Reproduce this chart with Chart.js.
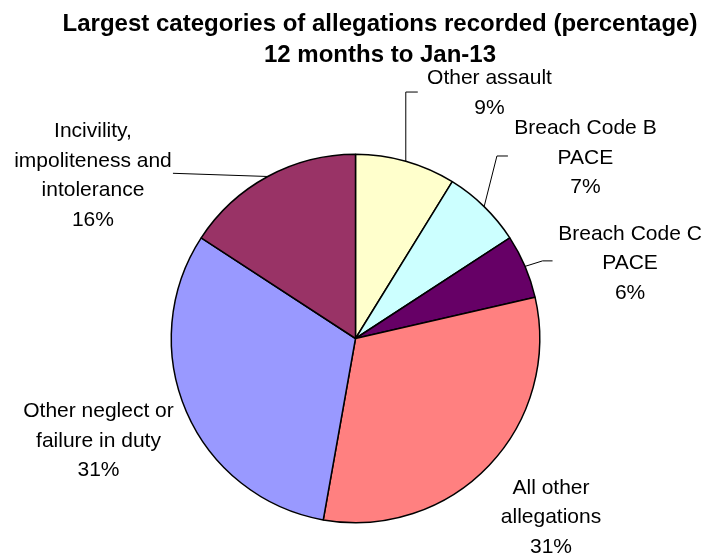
<!DOCTYPE html>
<html>
<head>
<meta charset="utf-8">
<script src="https://cdn.jsdelivr.net/npm/chart.js@4.4.1/dist/chart.umd.min.js"></script>
<style>
  html, body { margin: 0; padding: 0; background: #ffffff; }
  #wrap { width: 704px; height: 554px; position: relative; }
  canvas { display: block; }
</style>
</head>
<body>
<div id="wrap"><canvas id="c" width="704" height="554"></canvas></div>
<script>
// ---- Data ----
const titleLines = ['Largest categories of allegations recorded (percentage)', '12 months to Jan-13'];
const categories = [
  ['Other assault'],
  ['Breach Code B', 'PACE'],
  ['Breach Code C', 'PACE'],
  ['All other', 'allegations'],
  ['Other neglect or', 'failure in duty'],
  ['Incivility,', 'impoliteness and', 'intolerance']
];
const values = [8.8, 7.0, 5.6, 31.4, 31.4, 15.8];
const percentLabels = values.map(v => Math.round(v) + '%');

// ---- Styles ----
const sliceColors = ['#FFFFCC', '#CCFFFF', '#660066', '#FF8080', '#9999FF', '#993366'];
const FONT = '"Liberation Sans", Arial, sans-serif';
const LABEL_SIZE = 21;
const LINE_GAP = 29.7;
// label text anchor (center x, first baseline) relative to slice's outer mid point
const labelOffsets = [
  { dx: 83.7, dy: -76.9 },
  { dx: 101.3, dy: -72.6 },
  { dx: 105.0, dy: -26.8 },
  { dx: 62.0, dy: 28.2 },
  { dx: -87.9, dy: 5.3 },
  { dx: -174.8, dy: -39.5 }
];
// leader line points relative to slice's outer mid point
const leaders = [
  [[0, 0], [0, -69.2], [12, -69.2]],
  [[0, 0], [12.8, -50.6], [23.8, -50.6]],
  [[0, 0], [17.5, -5.5], [27.5, -5.5]],
  null,
  null,
  [[0, 0], [-94.8, -3.2]]
];

const labelPlugin = {
  id: 'pieLabels',
  afterDraw(chart) {
    const ctx = chart.ctx;
    ctx.save();
    // title
    ctx.fillStyle = '#000';
    ctx.textAlign = 'center';
    ctx.textBaseline = 'alphabetic';
    ctx.font = 'bold 24px ' + FONT;
    const tx = 380;
    ctx.fillText(titleLines[0], tx, 31);
    ctx.fillText(titleLines[1], tx, 61.5);

    const meta = chart.getDatasetMeta(0);
    meta.data.forEach((arc, i) => {
      const p = arc.getProps(['x', 'y', 'startAngle', 'endAngle', 'outerRadius'], true);
      const mid = (p.startAngle + p.endAngle) / 2;
      const ex = p.x + Math.cos(mid) * p.outerRadius;
      const ey = p.y + Math.sin(mid) * p.outerRadius;
      const ld = leaders[i];
      if (ld) {
        ctx.beginPath();
        ctx.strokeStyle = '#000';
        ctx.lineWidth = 1;
        ld.forEach((pt, k) => {
          const X = ex + pt[0], Y = ey + pt[1];
          if (k === 0) ctx.moveTo(X, Y); else ctx.lineTo(X, Y);
        });
        ctx.stroke();
      }
      const off = labelOffsets[i];
      const lines = categories[i].concat([percentLabels[i]]);
      ctx.font = LABEL_SIZE + 'px ' + FONT;
      ctx.fillStyle = '#000';
      ctx.textAlign = 'center';
      lines.forEach((t, k) => {
        ctx.fillText(t, ex + off.dx, ey + off.dy + k * LINE_GAP);
      });
    });
    ctx.restore();
  }
};

new Chart(document.getElementById('c'), {
  type: 'pie',
  data: {
    labels: categories.map(c => c.join(' ')),
    datasets: [{
      data: values,
      backgroundColor: sliceColors,
      borderColor: '#000000',
      borderWidth: 1.5
    }]
  },
  options: {
    responsive: false,
    animation: false,
    layout: { padding: { left: 170.5, right: 163.5, top: 153.5, bottom: 30.5 } },
    plugins: {
      legend: { display: false },
      tooltip: { enabled: false },
      title: { display: false }
    }
  },
  plugins: [labelPlugin]
});
</script>
</body>
</html>
